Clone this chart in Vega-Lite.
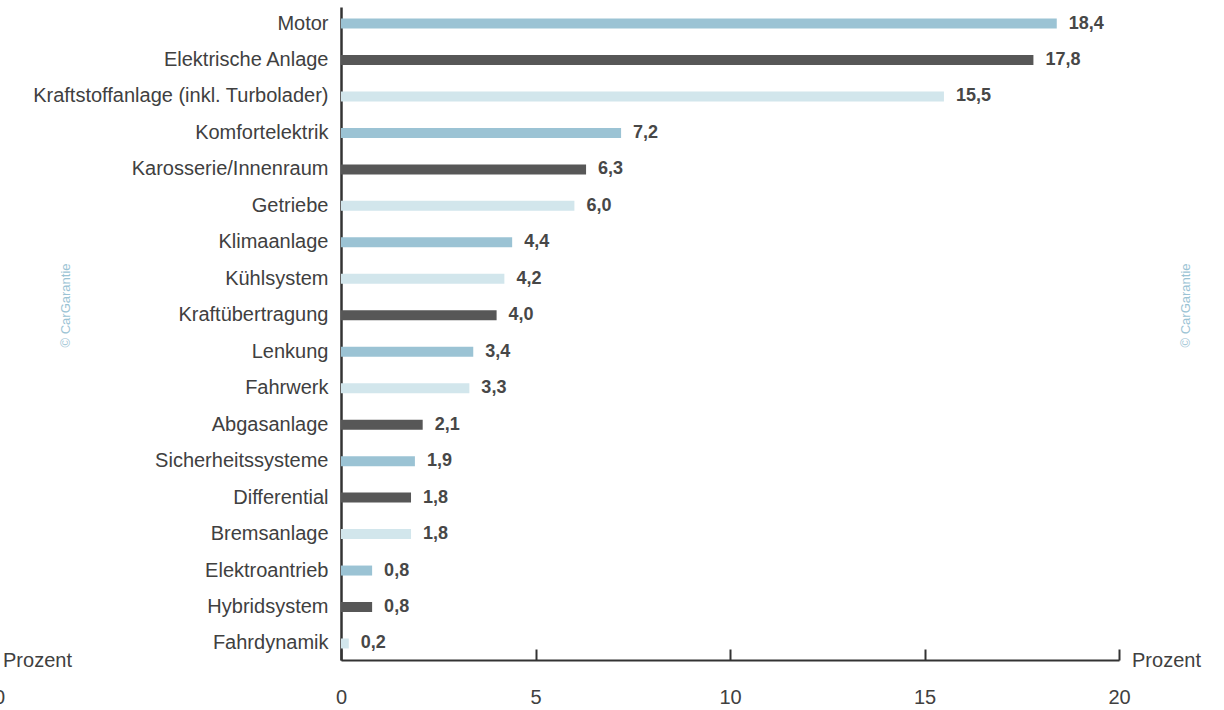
{
  "$schema": "https://vega.github.io/schema/vega-lite/v6.json",
  "width": 778,
  "height": 653,
  "autosize": {"type": "none"},
  "padding": {"left": 341, "top": 7, "right": 105, "bottom": 50},
  "background": "white",
  "config": {
    "view": {"stroke": null},
    "font": "Liberation Sans",
    "locale": {"number": {"decimal": ",", "thousands": ".", "grouping": [3], "currency": ["", " €"]}},
    "title": {"font": "Liberation Sans", "fontSize": 20, "fontWeight": "normal", "color": "#404040"}
  },
  "title": {"text": "0", "orient": "bottom", "anchor": "start", "frame": "group", "dx": -347, "dy": -19, "offset": 0},
  "data": {
    "values": [
      {"kategorie": "Motor", "wert": 18.4, "gruppe": "a"},
      {"kategorie": "Elektrische Anlage", "wert": 17.8, "gruppe": "b"},
      {"kategorie": "Kraftstoffanlage (inkl. Turbolader)", "wert": 15.5, "gruppe": "c"},
      {"kategorie": "Komfortelektrik", "wert": 7.2, "gruppe": "a"},
      {"kategorie": "Karosserie/Innenraum", "wert": 6.3, "gruppe": "b"},
      {"kategorie": "Getriebe", "wert": 6.0, "gruppe": "c"},
      {"kategorie": "Klimaanlage", "wert": 4.4, "gruppe": "a"},
      {"kategorie": "Kühlsystem", "wert": 4.2, "gruppe": "c"},
      {"kategorie": "Kraftübertragung", "wert": 4.0, "gruppe": "b"},
      {"kategorie": "Lenkung", "wert": 3.4, "gruppe": "a"},
      {"kategorie": "Fahrwerk", "wert": 3.3, "gruppe": "c"},
      {"kategorie": "Abgasanlage", "wert": 2.1, "gruppe": "b"},
      {"kategorie": "Sicherheitssysteme", "wert": 1.9, "gruppe": "a"},
      {"kategorie": "Differential", "wert": 1.8, "gruppe": "b"},
      {"kategorie": "Bremsanlage", "wert": 1.8, "gruppe": "c"},
      {"kategorie": "Elektroantrieb", "wert": 0.8, "gruppe": "a"},
      {"kategorie": "Hybridsystem", "wert": 0.8, "gruppe": "b"},
      {"kategorie": "Fahrdynamik", "wert": 0.2, "gruppe": "c"}
    ]
  },
  "layer": [
    {
      "encoding": {
        "y": {
          "field": "kategorie", "type": "nominal", "sort": null,
          "scale": {"paddingInner": 0.726, "paddingOuter": 0.316},
          "axis": {
            "orient": "left", "title": "© CarGarantie", "titleAngle": -90,
            "titleX": -276, "titleY": 298, "titleAlign": "center", "titleBaseline": "middle",
            "titleColor": "#9BC3D4", "titleFontSize": 13, "titleFontWeight": "normal", "titleFont": "Liberation Sans",
            "labelFontSize": 20, "labelColor": "#404040", "labelPadding": 13, "labelFont": "Liberation Sans",
            "ticks": false, "domainColor": "#333333", "domainWidth": 2.5, "grid": false, "labelLimit": 400
          }
        },
        "x": {
          "field": "wert", "type": "quantitative",
          "scale": {"domain": [0, 20], "nice": false},
          "axis": {
            "orient": "bottom", "values": [0, 5, 10, 15, 20], "grid": false, "labelFlush": false,
            "title": "Prozent", "titleX": 825, "titleY": 0, "titleAlign": "center", "titleBaseline": "middle",
            "titleFontSize": 20, "titleFontWeight": "normal", "titleColor": "#404040", "titleFont": "Liberation Sans",
            "labelFontSize": 20, "labelColor": "#404040", "labelFont": "Liberation Sans", "labelPadding": 38,
            "tickSize": -11, "tickWidth": 2, "tickColor": "#333333", "domainColor": "#333333", "domainWidth": 2
          }
        }
      },
      "layer": [
        {
          "mark": {"type": "bar", "orient": "horizontal"},
          "encoding": {
            "color": {
              "field": "gruppe", "type": "nominal",
              "scale": {"domain": ["a", "b", "c"], "range": ["#9BC3D4", "#575757", "#D2E6EC"]},
              "legend": null
            }
          }
        },
        {
          "mark": {"type": "text", "align": "left", "baseline": "middle", "dx": 12, "fontSize": 18, "fontWeight": "bold", "color": "#474747", "font": "Liberation Sans"},
          "encoding": {
            "text": {"field": "wert", "type": "quantitative", "format": ".1f"}
          }
        }
      ]
    },
    {
      "mark": {"type": "point", "opacity": 0},
      "encoding": {
        "y": {
          "field": "kategorie", "type": "nominal", "sort": null,
          "axis": {
            "orient": "right", "labels": false, "ticks": false, "domain": false, "grid": false,
            "title": "© CarGarantie", "titleAngle": -90, "titleX": 66, "titleY": 298,
            "titleAlign": "center", "titleBaseline": "middle",
            "titleColor": "#9BC3D4", "titleFontSize": 13, "titleFontWeight": "normal", "titleFont": "Liberation Sans"
          }
        },
        "x": {
          "field": "wert", "type": "quantitative",
          "scale": {"domain": [0, 20], "nice": false},
          "axis": {
            "orient": "top", "labels": false, "ticks": false, "domain": false, "grid": false,
            "title": "Prozent", "titleX": -304, "titleY": 653, "titleAlign": "center", "titleBaseline": "middle",
            "titleFontSize": 20, "titleFontWeight": "normal", "titleColor": "#404040", "titleFont": "Liberation Sans"
          }
        }
      }
    }
  ],
  "resolve": {"axis": {"x": "independent", "y": "independent"}}
}
